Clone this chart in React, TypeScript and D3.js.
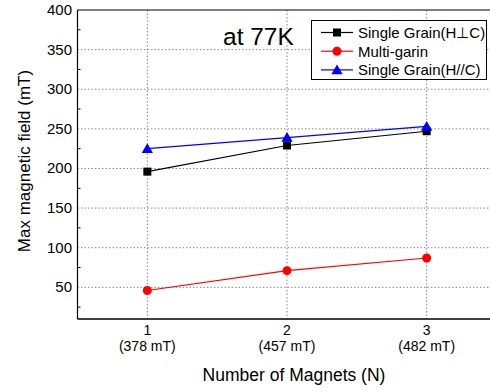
import React, { useEffect } from "react";
import * as d3 from "d3";

// data
const magnets = [1, 2, 3];
const tickLabels = ["(378 mT)", "(457 mT)", "(482 mT)"];
const singlePerp = [196, 229, 247];
const multiGrain = [46, 71, 87];
const singlePar = [225, 239, 253];
const yTicks = [50, 100, 150, 200, 250, 300, 350, 400];

const W = 490;
const H = 392;
const font = "'Liberation Sans', Arial, sans-serif";

export default function App() {
  useEffect(() => {
    document.body.style.margin = "0";
  }, []);

  const x = d3.scaleLinear().domain([0.5, 3.5]).range([77.5, 496.5]);
  const y = d3.scaleLinear().domain([10, 400]).range([319, 10]);
  const line = d3
    .line<number>()
    .x((d, i) => x(magnets[i]))
    .y((d) => y(d));

  const minor = d3.range(25, 400, 50);

  const series = [
    { name: "Single Grain(H\u22A5C)", values: singlePerp, color: "#000000", shape: "square" },
    { name: "Multi-garin", values: multiGrain, color: "#ff0000", shape: "circle" },
    { name: "Single Grain(H//C)", values: singlePar, color: "#0000ff", shape: "triangle" },
  ];

  const marker = (shape: string, cx: number, cy: number, color: string, key: any) => {
    if (shape === "square")
      return <rect key={key} x={cx - 4} y={cy - 4} width={8} height={8} fill={color} />;
    if (shape === "circle") return <circle key={key} cx={cx} cy={cy} r={4.5} fill={color} />;
    const tri = d3.symbol(d3.symbolTriangle, 55)();
    return <path key={key} d={tri || ""} transform={`translate(${cx},${cy + 1})`} fill={color} />;
  };

  return (
    <svg width={W} height={H} style={{ display: "block", background: "#fff" }} fontFamily={font}>
      {/* grid */}
      {yTicks.filter((t) => t < 400).map((t) => (
        <line key={"gy" + t} x1={x.range()[0]} x2={W} y1={y(t)} y2={y(t)}
          stroke="#888" strokeWidth={1} strokeDasharray="1.5,2" />
      ))}
      {magnets.map((m) => (
        <line key={"gx" + m} x1={x(m)} x2={x(m)} y1={y(400)} y2={y(10)}
          stroke="#888" strokeWidth={1} strokeDasharray="1.5,2" />
      ))}
      {/* minor ticks */}
      {minor.map((t) => (
        <line key={"mt" + t} x1={x.range()[0]} x2={x.range()[0] + 3} y1={y(t)} y2={y(t)} stroke="#000" />
      ))}
      {/* frame */}
      <line x1={x.range()[0]} x2={W} y1={y(400)} y2={y(400)} stroke="#000" strokeWidth={1.2} />
      <line x1={x.range()[0]} x2={x.range()[0]} y1={y(400)} y2={y(10)} stroke="#000" strokeWidth={1.2} />
      <line x1={x.range()[0]} x2={W} y1={y(10)} y2={y(10)} stroke="#000" strokeWidth={1.6} />

      {/* y tick labels */}
      {yTicks.map((t) => (
        <text key={"yl" + t} x={72} y={y(t) + 5} textAnchor="end" fontSize={15} fill="#000">{t}</text>
      ))}
      {/* x tick labels */}
      {magnets.map((m, i) => (
        <g key={"xl" + m}>
          <text x={x(m)} y={335} textAnchor="middle" fontSize={14}>{m}</text>
          <text x={x(m)} y={351} textAnchor="middle" fontSize={14}>{tickLabels[i]}</text>
        </g>
      ))}
      <text x={294} y={381} textAnchor="middle" fontSize={17.5}>Number of Magnets (N)</text>
      <text transform={`translate(30,161) rotate(-90)`} textAnchor="middle" fontSize={17}>Max magnetic field (mT)</text>

      {/* series */}
      {series.map((s) => (
        <g key={s.name}>
          <path d={line(s.values) || ""} fill="none" stroke={s.color} strokeWidth={1.2} />
          {s.values.map((v, i) => marker(s.shape, x(magnets[i]), y(v), s.color, i))}
        </g>
      ))}

      <text x={223} y={45} fontSize={24.5}>at 77K</text>

      {/* legend */}
      <rect x={311.5} y={20.5} width={175} height={59} fill="#fff" stroke="#000" strokeWidth={1} />
      {series.map((s, i) => {
        const ly = 32.5 + i * 18.7;
        return (
          <g key={"lg" + i}>
            <line x1={321} x2={353} y1={ly} y2={ly} stroke={s.color} strokeWidth={1.2} />
            {marker(s.shape, 337, ly, s.color, "m")}
            <text x={358} y={ly + 5.5} fontSize={15}>{s.name}</text>
          </g>
        );
      })}
    </svg>
  );
}
